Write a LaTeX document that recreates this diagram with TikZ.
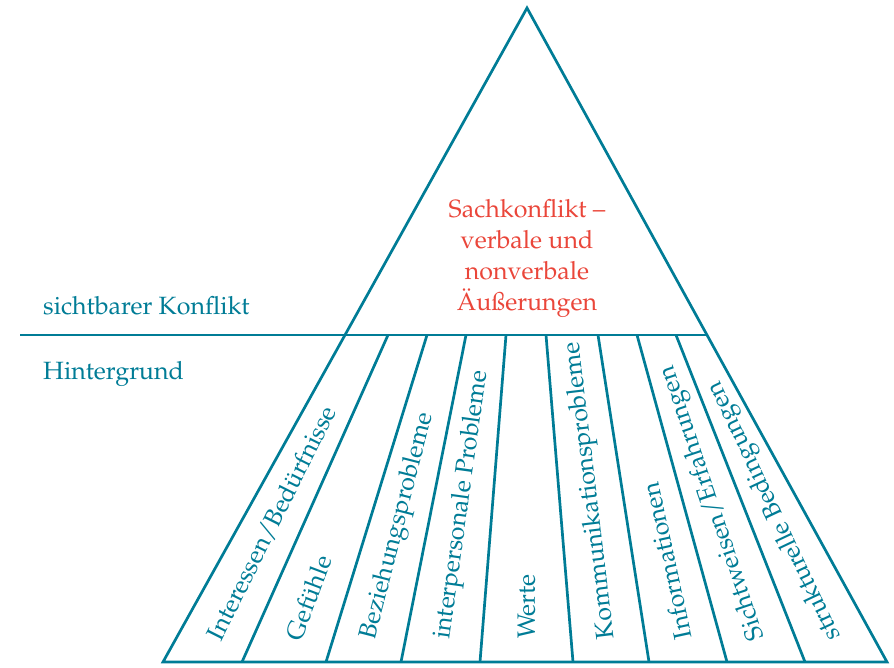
\documentclass[tikz,border=0pt]{standalone}
\usepackage[T1]{fontenc}
\renewcommand{\rmdefault}{ppl}
\usetikzlibrary{calc}
\definecolor{konfteal}{RGB}{0,124,150}
\definecolor{konfred}{RGB}{234,70,58}
\tikzset{
  strich/.style={draw=konfteal, line width=2.7pt},
  ebene/.style={text=konfteal, anchor=base west, inner sep=0pt, font=\fontsize{25}{31}\selectfont},
  streifen/.style={text=konfteal, inner sep=0pt, font=\fontsize{25}{31}\selectfont, sloped, allow upside down, anchor=west, pos=.07},
}

\begin{document}
\begin{tikzpicture}[x=1pt,y=-1pt]
    \useasboundingbox (0,0) rectangle (894,668);
    % Eckpunkte
    \coordinate (spitze) at (527,8);
    \coordinate (links) at (20,335);
    \coordinate (t0) at (345,335);
    \coordinate (t1) at (388,335);
    \coordinate (t2) at (427,335);
    \coordinate (t3) at (466,335);
    \coordinate (t4) at (506,335);
    \coordinate (t5) at (546,335);
    \coordinate (t6) at (598,335);
    \coordinate (t7) at (637,335);
    \coordinate (t8) at (676,335);
    \coordinate (t9) at (707,335);
    \coordinate (b0) at (163,662);
    \coordinate (b1) at (242,662);
    \coordinate (b2) at (326,662);
    \coordinate (b3) at (401,662);
    \coordinate (b4) at (480,662);
    \coordinate (b5) at (573,662);
    \coordinate (b6) at (649,662);
    \coordinate (b7) at (727,662);
    \coordinate (b8) at (805,662);
    \coordinate (b9) at (887,662);
    % Dreieck und Trennlinie
    \draw[strich, line join=miter] (b0) -- (spitze) -- (b9) -- cycle;
    \draw[strich] (links) -- (t9);
    \draw[strich] (t1) -- (b1);
    \draw[strich] (t2) -- (b2);
    \draw[strich] (t3) -- (b3);
    \draw[strich] (t4) -- (b4);
    \draw[strich] (t5) -- (b5);
    \draw[strich] (t6) -- (b6);
    \draw[strich] (t7) -- (b7);
    \draw[strich] (t8) -- (b8);
    % Texte
    \node[ebene] (sichtbar) at (43,315) {sichtbarer Konflikt};
    \node[ebene] (hinter) at (43,379) {Hintergrund};
    \node[text=konfred, align=center, font=\fontsize{25}{31}\selectfont] (sach) at (527,258)
      {Sachkonflikt --\\verbale und\\nonverbale\\\"Au\ss erungen};
    \path ($(b0)!.5!(b1)$) -- ($(t0)!.5!(t1)$) node[streifen] (s1) {Interessen/Bed\"urfnisse};
    \path ($(b1)!.5!(b2)$) -- ($(t1)!.5!(t2)$) node[streifen] (s2) {Gef\"uhle};
    \path ($(b2)!.5!(b3)$) -- ($(t2)!.5!(t3)$) node[streifen] (s3) {Beziehungsprobleme};
    \path ($(b3)!.5!(b4)$) -- ($(t3)!.5!(t4)$) node[streifen] (s4) {interpersonale Probleme};
    \path ($(b4)!.5!(b5)$) -- ($(t4)!.5!(t5)$) node[streifen] (s5) {Werte};
    \path ($(b5)!.5!(b6)$) -- ($(t5)!.5!(t6)$) node[streifen] (s6) {Kommunikationsprobleme};
    \path ($(b6)!.5!(b7)$) -- ($(t6)!.5!(t7)$) node[streifen] (s7) {Informationen};
    \path ($(b7)!.5!(b8)$) -- ($(t7)!.5!(t8)$) node[streifen] (s8) {Sichtweisen/Erfahrungen};
    \path ($(b8)!.5!(b9)$) -- ($(t8)!.5!(t9)$) node[streifen] (s9) {strukturelle Bedingungen};
\end{tikzpicture}
\end{document}
